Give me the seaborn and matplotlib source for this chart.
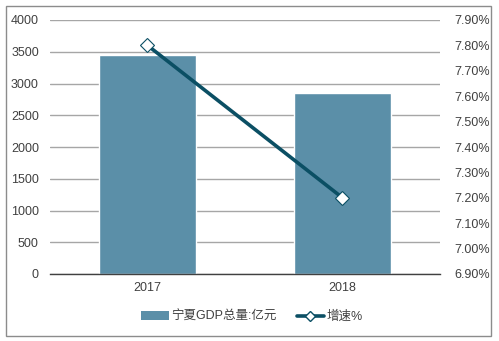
import numpy as np
import pandas as pd
import matplotlib
matplotlib.use("Agg")
import matplotlib.pyplot as plt
from matplotlib.patches import Rectangle, Patch
from matplotlib.lines import Line2D
from matplotlib.ticker import FuncFormatter, MultipleLocator
import seaborn as sns

years = ["2017", "2018"]
gdp = [3444, 2850]          # 宁夏GDP总量:亿元
growth = [7.8, 7.2]         # 增速%
bar_label = "宁夏GDP总量:亿元"
line_label = "增速%"

sns.set_theme(style="white")
plt.rcParams["font.family"] = ["Liberation Sans", "Noto Sans CJK SC", "DejaVu Sans"]

bar_color = "#5b8fa8"
line_color = "#0b4f64"
text_color = "#404040"
fs = 9

fig = plt.figure(figsize=(4.99, 3.41), dpi=100)
ax = fig.add_axes([50 / 499, 1 - 274 / 341, 390 / 499, 254 / 341])

df = pd.DataFrame({"year": years, "gdp": gdp})
sns.barplot(data=df, x="year", y="gdp", color=bar_color, saturation=1,
            width=0.5, ax=ax, zorder=2)
ax.set_xlim(-0.5, 1.5)
ax.set_ylim(0, 4000)
ax.yaxis.set_major_locator(MultipleLocator(500))
ax.grid(axis="y", color="#a6a6a6", linewidth=1, zorder=0)
ax.set_axisbelow(True)
ax.set_xlabel("")
ax.set_ylabel("")
for s in ("left", "right", "top"):
    ax.spines[s].set_visible(False)
ax.spines["bottom"].set_color("#404040")
ax.spines["bottom"].set_linewidth(1)
ax.tick_params(axis="both", length=0, labelsize=fs, colors=text_color)
ax.tick_params(axis="y", pad=8)
ax.tick_params(axis="x", pad=6)

ax2 = ax.twinx()
sns.lineplot(x=np.arange(len(years)), y=growth, ax=ax2, color=line_color,
             linewidth=2.6, marker="D", markersize=7,
             markerfacecolor="white", markeredgecolor=line_color,
             markeredgewidth=0.8, zorder=3)
ax2.set_ylim(6.9, 7.9)
ax2.set_yticks(np.round(np.arange(6.9, 7.95, 0.1), 2))
ax2.yaxis.set_major_formatter(FuncFormatter(lambda v, p: f"{v:.2f}%"))
for s in ax2.spines.values():
    s.set_visible(False)
ax2.tick_params(axis="y", length=0, labelsize=fs, colors=text_color, pad=10)
ax2.set_ylabel("")
ax2.grid(False)

handles = [
    Patch(facecolor=bar_color, edgecolor="none"),
    Line2D([0], [0], color=line_color, linewidth=2.6, marker="D",
           markersize=5, markerfacecolor="white", markeredgecolor=line_color),
]
fig.legend(handles, [bar_label, line_label], loc="center", ncol=2,
           bbox_to_anchor=(0.505, 1 - 317 / 341), frameon=False,
           fontsize=fs, labelcolor=text_color, handlelength=2.2,
           handletextpad=0.2, columnspacing=1.6)

fig.patches.append(Rectangle((6 / 499, 1 - 336 / 341), 485 / 499, 330 / 341,
                             transform=fig.transFigure, fill=False,
                             edgecolor="#8c8c8c", linewidth=1))

fig.savefig("out.png", dpi=100)
